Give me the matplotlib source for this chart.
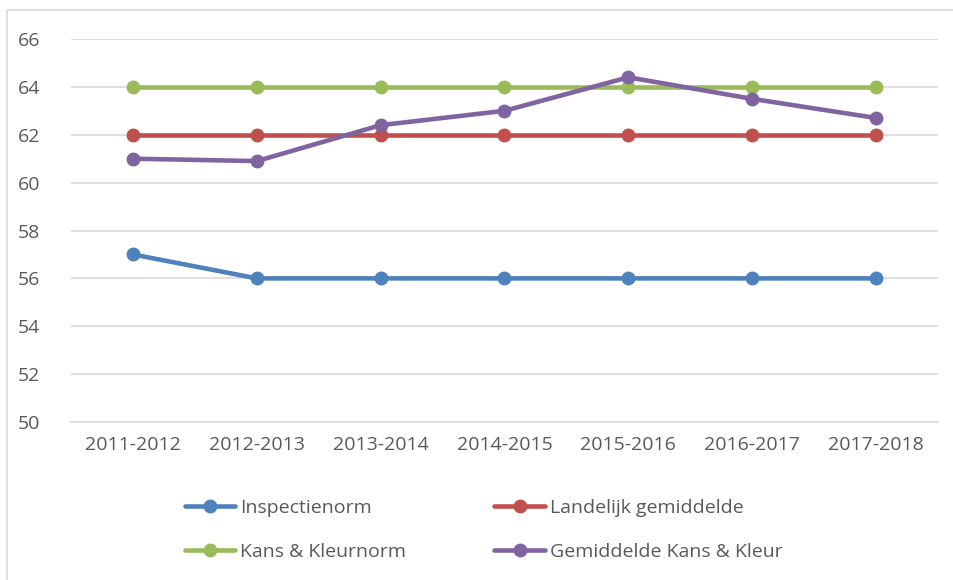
import matplotlib.pyplot as plt
from matplotlib.patches import Rectangle

# Gegevens
jaren = ['2011-2012', '2012-2013', '2013-2014', '2014-2015', '2015-2016', '2016-2017', '2017-2018']
inspectienorm = [57, 56, 56, 56, 56, 56, 56]
landelijk_gemiddelde = [62, 62, 62, 62, 62, 62, 62]
kans_kleurnorm = [64, 64, 64, 64, 64, 64, 64]
gemiddelde_kans_kleur = [61.0, 60.9, 62.4, 63.0, 64.4, 63.5, 62.7]

reeksen = [
    ('Inspectienorm', inspectienorm, '#4F81BD'),
    ('Landelijk gemiddelde', landelijk_gemiddelde, '#C0504D'),
    ('Kans & Kleurnorm', kans_kleurnorm, '#9BBB59'),
    ('Gemiddelde Kans & Kleur', gemiddelde_kans_kleur, '#8064A2'),
]

plt.rcParams['font.family'] = ['Open Sans', 'DejaVu Sans']

fig = plt.figure(figsize=(9.54, 5.80), dpi=100)
ax = fig.add_axes([71 / 954, 1 - 422 / 580, (938 - 71) / 954, (422 - 39) / 580])

# Rand rond de grafiek
fig.patches.append(Rectangle((7 / 954, -0.1), 1.1, 1 - 10 / 580 + 0.1,
                             transform=fig.transFigure, fill=False,
                             edgecolor='#D9D9D9', linewidth=1.2))

x = range(len(jaren))
lijnen = []
for naam, waarden, kleur in reeksen:
    l, = ax.plot(x, waarden, color=kleur, linewidth=3.3, marker='o', markersize=9,
                 label=naam, solid_capstyle='round')
    lijnen.append(l)

ax.set_xlim(-0.5, len(jaren) - 0.5)
ax.set_ylim(50, 66)
ax.set_yticks(range(50, 67, 2))
ax.set_xticks(list(x))
ax.set_xticklabels(jaren)
ax.grid(axis='y', color='#D9D9D9', linewidth=1.2)
ax.set_axisbelow(True)
for s in ['top', 'right', 'left']:
    ax.spines[s].set_visible(False)
ax.spines['bottom'].set_color('#D9D9D9')
ax.spines['bottom'].set_linewidth(1.2)
ax.tick_params(length=0, labelsize=14, colors='#595959', pad=10)
ax.tick_params(axis='y', pad=22)

# legenda rij voor rij: matplotlib vult kolommen eerst
volgorde = [0, 2, 1, 3]
fig.legend([lijnen[i] for i in volgorde], [reeksen[i][0] for i in volgorde],
           loc='center', bbox_to_anchor=(483.5 / 954, 1 - 530 / 580), ncol=2,
           frameon=False, fontsize=14, labelcolor='#595959',
           handlelength=2.6, handletextpad=0.25, columnspacing=4.55,
           labelspacing=1.35)

fig.savefig('out.png', dpi=100)
